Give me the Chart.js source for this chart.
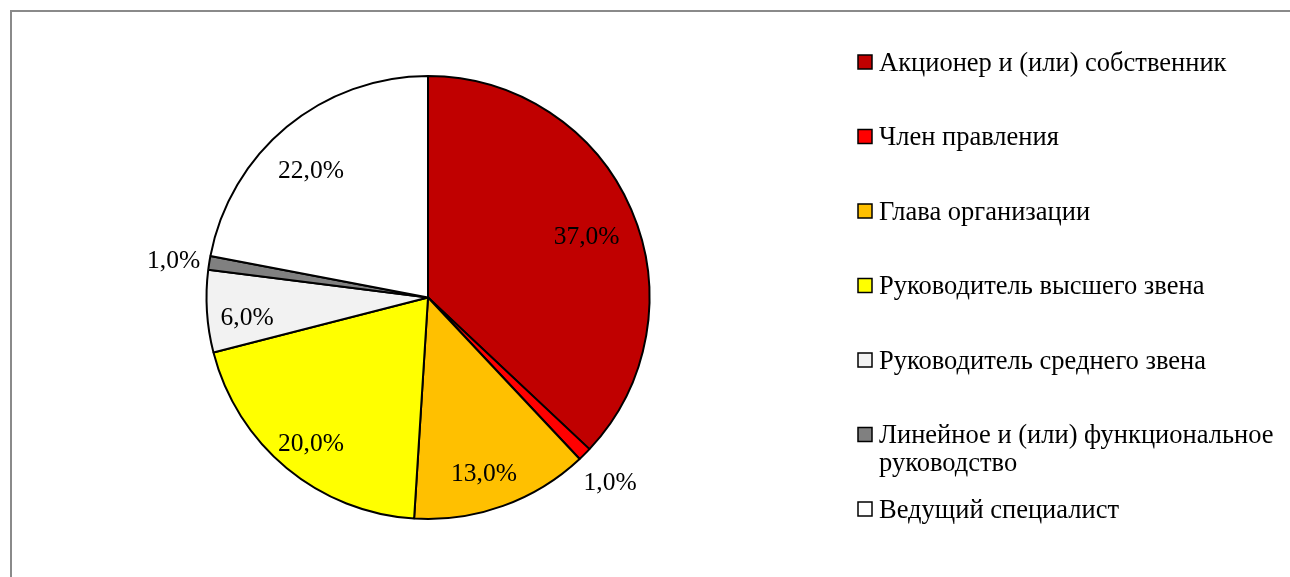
<!DOCTYPE html>
<html>
<head>
<meta charset="utf-8">
<script src="https://cdn.jsdelivr.net/npm/chart.js@4.4.1/dist/chart.umd.min.js"></script>
<style>
    body { margin: 0; background: #fff; }
    #wrap { position: relative; width: 1290px; height: 577px; }
    #frame {
        position: absolute; left: 10px; top: 10px; right: -5px; bottom: -5px;
        border-left: 2px solid #8a8a8a; border-top: 2px solid #8a8a8a;
        pointer-events: none;
    }
</style>
</head>
<body>
<div id="wrap">
    <canvas id="pieChart" width="1290" height="577"></canvas>
    <div id="frame"></div>
</div>
<script>
const labels = [
    'Акционер и (или) собственник',
    'Член правления',
    'Глава организации',
    'Руководитель высшего звена',
    'Руководитель среднего звена',
    ['Линейное и (или) функциональное', 'руководство'],
    'Ведущий специалист'
];
const values = [37, 1, 13, 20, 6, 1, 22];
const colors = ['#C00000', '#FF0000', '#FFC000', '#FFFF00', '#F2F2F2', '#808080', '#FFFFFF'];

const LABEL_FONT = '25.5px "Liberation Serif", "Times New Roman", serif';
const LEGEND_FONT = '26.5px "Liberation Serif", "Times New Roman", serif';

// подписи процентов: крупные внутри, мелкие снаружи
const valueLabels = {
    id: 'valueLabels',
    afterDatasetsDraw(chart) {
        const ctx = chart.ctx;
        const meta = chart.getDatasetMeta(0);
        ctx.save();
        ctx.font = LABEL_FONT;
        ctx.fillStyle = '#000';
        ctx.textAlign = 'center';
        ctx.textBaseline = 'middle';
        meta.data.forEach((arc, i) => {
            const v = values[i];
            const small = v < 3;
            const mid = (arc.startAngle + arc.endAngle) / 2;
            const r = small ? arc.outerRadius + 36 : arc.outerRadius * 0.8;
            const x = arc.x + Math.cos(mid) * r + (small ? 0 : -4);
            const y = arc.y + Math.sin(mid) * r + (small ? 4 : 10);
            ctx.fillText(v.toFixed(1).replace('.', ',') + '%', x, y);
        });
        ctx.restore();
    }
};

// легенда справа в стиле Excel
const sideLegend = {
    id: 'sideLegend',
    afterDraw(chart) {
        const ctx = chart.ctx;
        ctx.save();
        ctx.font = LEGEND_FONT;
        ctx.textBaseline = 'middle';
        labels.forEach((lab, i) => {
            const y = 62 + i * 74.5;
            ctx.fillStyle = colors[i];
            ctx.fillRect(858, y - 7, 14, 14);
            ctx.strokeStyle = '#000';
            ctx.lineWidth = 1.5;
            ctx.strokeRect(858, y - 7, 14, 14);
            ctx.fillStyle = '#000';
            const lines = Array.isArray(lab) ? lab : [lab];
            lines.forEach((t, k) => ctx.fillText(t, 879, y + 2 + k * 28));
        });
        ctx.restore();
    }
};

const ctx = document.getElementById('pieChart');
const data = {
    labels: labels.map(l => Array.isArray(l) ? l.join(' ') : l),
    datasets: [{
        data: values,
        backgroundColor: colors,
        borderColor: '#000',
        borderWidth: 2
    }]
};
const config = {
    type: 'pie',
    data: data,
    options: {
        responsive: false,
        animation: false,
        layout: {
            padding: { top: 75, bottom: 57, left: 205, right: 639 }
        },
        plugins: {
            legend: { display: false },
            tooltip: { enabled: false }
        }
    },
    plugins: [valueLabels, sideLegend]
};
const pieChart = new Chart(ctx, config);
</script>
</body>
</html>
